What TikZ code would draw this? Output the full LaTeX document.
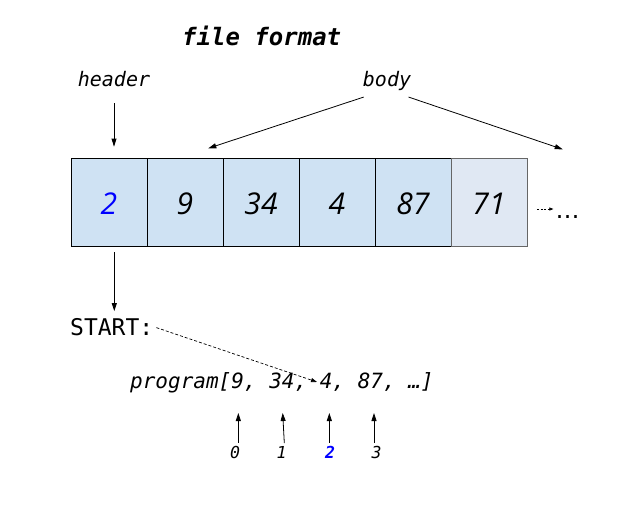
\documentclass[tikz,border=0pt]{standalone}
\usepackage{fontspec}
\setmainfont{DejaVu Sans}
\newfontfamily\monof{DejaVu Sans Mono}
\newfontfamily\boxf{Open Sans}
\usetikzlibrary{arrows.meta,calc}
\definecolor{cellfill}{HTML}{CFE2F3}
\definecolor{cellfaint}{HTML}{E0E8F3}
\definecolor{cellgray}{HTML}{666666}
\definecolor{idxblue}{HTML}{0000FF}
\begin{document}
\begin{tikzpicture}[x=1pt,y=-1pt,
  cell/.style={draw=black, line width=0.8pt, fill=cellfill, minimum width=76pt,
    minimum height=88pt, inner sep=0pt, text height=25pt, text depth=0pt,
    font=\boxf\itshape\fontsize{30}{36}\selectfont},
  lastcell/.style={cell, draw=cellgray, fill=cellfaint},
  txt/.style={inner sep=0pt, anchor=base},
  monoit/.style={font=\monof\itshape\fontsize{#1}{#1}\selectfont},
  arr/.style={-{Triangle[length=8pt,width=5pt]}, line width=0.8pt},
  darr/.style={-{Triangle[length=6pt,width=4pt]}, line width=0.7pt, dash pattern=on 3pt off 2pt},
  sarr/.style={-{Triangle[length=4pt,width=3pt]}, line width=0.6pt, dash pattern=on 2pt off 1.5pt}
]
\fill[white] (0,0) rectangle (628,514);
\useasboundingbox (0,0) rectangle (628,514);

% title and labels
\node[txt, font=\monof\bfseries\itshape\fontsize{24}{28}\selectfont] (title) at (261.7,45) {file format};
\node[txt, monoit=20] (header) at (114,86.7) {header};
\node[txt, monoit=20] (body) at (387,86.7) {body};

% cells
\node[cell] (b0) at (109,202) {\textcolor{idxblue}{2}};
\node[cell] (b1) at (185,202) {9};
\node[cell] (b2) at (261,202) {34};
\node[cell] (b3) at (337,202) {4};
\node[cell] (b4) at (413,202) {87};
\node[lastcell] (b5) at (489,202) {71};
\node[txt, font=\fontsize{24}{28}\selectfont] (ell) at (567.5,218) {…};

% header / body arrows
\draw[arr, shorten <=16pt, shorten >=11pt] (header.south) -- (header.south |- b0.north);
\coordinate (tipL) at (208.3,148.3);
\coordinate (tipR) at (562.7,149.3);
\draw[arr] ($(body.south west)+(1,6)$) -- (tipL);
\draw[arr] ($(body.south east)+(-2.7,6)$) -- (tipR);
\draw[sarr] ($(b5.east)+(10,7)$) -- ($(b5.east)+(26,7)$);

% START
\node[txt, anchor=base west, font=\monof\fontsize{23}{28}\selectfont] (start) at (70,335) {START:};
\coordinate (dA) at ($(b0.south)+(5.3,5.7)$);
\draw[arr, shorten >=6.6pt] (dA) -- (dA |- start.north);

% program line
\node[txt, anchor=base west, monoit=21] (prog) at (130,388) {program[9, 34, 4, 87, …]};
\coordinate (tipS) at (317,382);
\draw[darr, shorten <=3pt] (start.east) -- (tipS);

% index labels
\node[txt, monoit=16.5] (i0) at (235,458.3) {0};
\node[txt, monoit=16.5] (i1) at (281.7,458.3) {1};
\node[txt, font=\monof\bfseries\itshape\fontsize{16.5}{18}\selectfont, text=idxblue] (i2) at (330,458.3) {2};
\node[txt, monoit=16.5] (i3) at (376.7,458.3) {3};
\coordinate (t0) at (238.3,413);
\coordinate (t1) at (282.7,413);
\coordinate (t2) at (329.3,413);
\coordinate (t3) at (374,413);
\draw[arr] ($(i0.north)+(3.3,-3)$) -- (t0);
\draw[arr] ($(i1.north)+(2.6,-3)$) -- (t1);
\draw[arr] ($(i2.north)+(-0.7,-3)$) -- (t2);
\draw[arr] ($(i3.north)+(-2.7,-3)$) -- (t3);
\end{tikzpicture}
\end{document}
